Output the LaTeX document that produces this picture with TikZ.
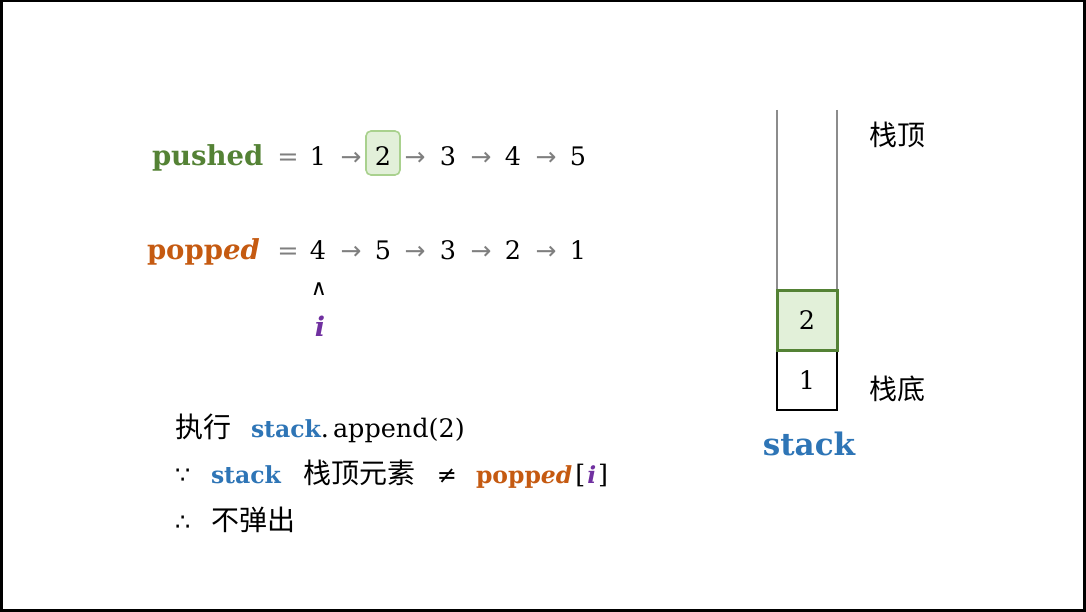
\documentclass[tikz,border=0pt]{standalone}
\usepackage{fontspec}
\newfontfamily\cjk{Noto Sans CJK SC}
\newfontfamily\sym{DejaVu Sans}
\newfontfamily\sr{DejaVu Serif}
\definecolor{pgreen}{HTML}{548235}
\definecolor{porange}{HTML}{C55A11}
\definecolor{pblue}{HTML}{2E75B6}
\definecolor{ppurple}{HTML}{7030A0}
\definecolor{lgreen}{HTML}{E2F0D9}
\definecolor{boxline}{HTML}{A9D18E}
\definecolor{arrgray}{HTML}{7F7F7F}
\definecolor{stackgray}{HTML}{8C8C8C}
\begin{document}
\begin{tikzpicture}[x=1pt,y=-1pt,
  every node/.style={inner sep=0pt,outer sep=0pt},
  word/.style={anchor=base west,font=\fontsize{27.5}{34}\selectfont\sr\bfseries},
  num/.style={anchor=base,font=\fontsize{25.5}{30}\selectfont\sr},
  arr/.style={anchor=base,text=arrgray,font=\fontsize{25}{26}\selectfont\sym},
  txt/.style={anchor=base west,font=\fontsize{25.5}{30}\selectfont\sr},
  cjktxt/.style={anchor=base west,font=\fontsize{28}{30}\selectfont\cjk},
  btxt/.style={anchor=base west,font=\fontsize{23.5}{30}\selectfont\sr\bfseries},
  stackbox/.style={minimum width=60,minimum height=60,font=\fontsize{25.5}{30}\selectfont\sr}
]
\useasboundingbox (0,0) rectangle (1086,612);
\draw[line width=2.5pt] (1.25,1.25) rectangle (1084.3,610.3);

% row 1: pushed
\node[word,text=pgreen] (pw) at (152,166) {pushed};
\node[num,text=arrgray] (eq1) at (288,166) {=};
\node[num] (a1) at (318,166) {1};
\node[arr] (r11) at (351,166) {→};
\node[draw=boxline,fill=lgreen,rounded corners=5pt,line width=1.6pt,minimum width=34,minimum height=44] (b2) at (383,153) {};
\node[num] (a2) at (383,166) {2};
\node[arr] (r12) at (415,166) {→};
\node[num] (a3) at (448,166) {3};
\node[arr] (r13) at (481,166) {→};
\node[num] (a4) at (513,166) {4};
\node[arr] (r14) at (546,166) {→};
\node[num] (a5) at (578,166) {5};

% row 2: popped
\node[word,text=porange] (po) at (147,259) {popp\textit{ed}};
\node[num,text=arrgray] (eq2) at (288,259) {=};
\node[num] (c1) at (318,259) {4};
\node[arr] (r21) at (351,259) {→};
\node[num] (c2) at (383,259) {5};
\node[arr] (r22) at (415,259) {→};
\node[num] (c3) at (448,259) {3};
\node[arr] (r23) at (481,259) {→};
\node[num] (c4) at (513,259) {2};
\node[arr] (r24) at (546,259) {→};
\node[num] (c5) at (578,259) {1};
\node[font=\fontsize{22}{24}\selectfont\sym] (caret) at (319,289) {∧};
\node[text=ppurple,font=\fontsize{27}{32}\selectfont\sr\bfseries\itshape] (iv) at (320,326) {i};

% bottom text
\node[cjktxt] (l1a) at (175,437) {执行};
\node[btxt,text=pblue] (l1b) at (251,437) {stack};
\node[txt] (l1c) at (l1b.base east) [anchor=base west] {.};
\node[txt] (l1d) at (333,437) {append(2)};

\node[txt,font=\fontsize{24}{26}\selectfont\sym] (l2a) at (175,483) {∵};
\node[btxt,text=pblue] (l2b) at (211,483) {stack};
\node[cjktxt] (l2c) at (303,483) {栈顶元素};
\node[num,font=\fontsize{24}{30}\selectfont\sym] (l2d) at (447,483) {≠};
\node[btxt,text=porange] (l2e) at (476,483) {popp\textit{ed}};
\node[txt,anchor=base west] (l2f) at ([xshift=3pt]l2e.base east) {[\hspace{2pt}\textcolor{ppurple}{\fontsize{23.5}{30}\selectfont\bfseries\itshape i}\hspace{2pt}]};

\node[txt,font=\fontsize{24}{26}\selectfont\sym] (l3a) at (175,530) {∴};
\node[cjktxt] (l3b) at (211,530) {不弹出};

% stack
\draw[stackgray,line width=2pt] (777,110) -- (777,290);
\draw[stackgray,line width=2pt] (837,110) -- (837,290);
\node[stackbox,draw=black,line width=2pt] (s1) at (807,380) {1};
\node[stackbox,draw=pgreen,fill=lgreen,line width=3pt] (s2) at (807,320) {2};
\node[font=\fontsize{28}{30}\selectfont\cjk] (top) at (897,135) {栈顶};
\node[font=\fontsize{28}{30}\selectfont\cjk] (bot) at (897,389) {栈底};
\node[font=\fontsize{31}{40}\selectfont\sr\bfseries,text=pblue] (stk) at (809,444) {stack};
\end{tikzpicture}
\end{document}
